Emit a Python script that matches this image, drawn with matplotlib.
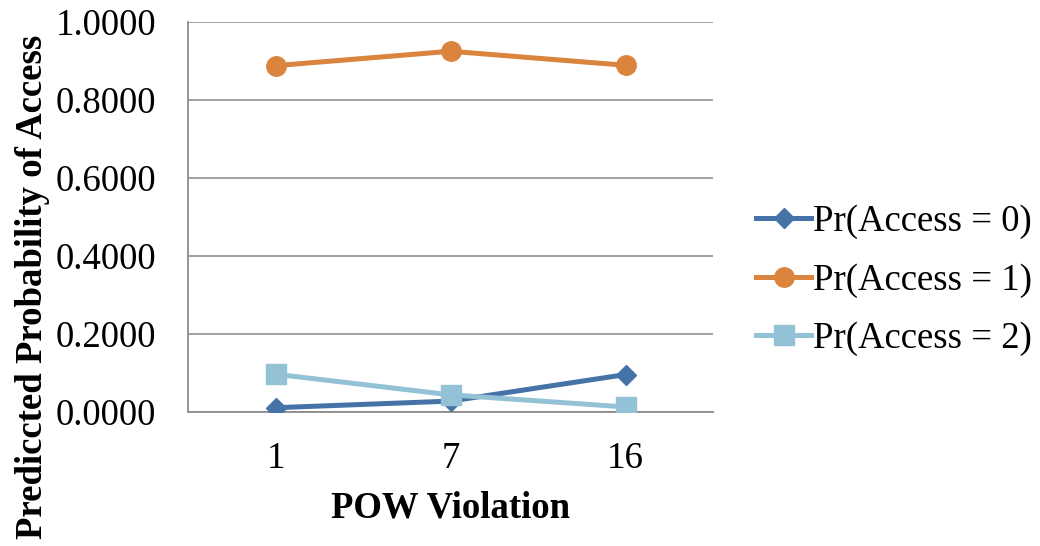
import matplotlib
matplotlib.use("Agg")
import matplotlib.pyplot as plt
from matplotlib.ticker import FormatStrFormatter

categories = ["1", "7", "16"]
pr_access_0 = [0.011, 0.028, 0.096]
pr_access_1 = [0.888, 0.925, 0.889]
pr_access_2 = [0.097, 0.044, 0.013]

plt.rcParams["font.family"] = ["Liberation Serif", "DejaVu Serif"]

fig = plt.figure(figsize=(10.4, 5.46), dpi=100)
ax = fig.add_axes([0.1808, 0.2454, 0.5048, 0.7143])

x = range(len(categories))
ax.plot(x, pr_access_0, color="#4572A7", lw=3.6, marker="D", ms=10,
        label="Pr(Access = 0)", zorder=3)
ax.plot(x, pr_access_1, color="#DB843D", lw=3.6, marker="o", ms=14,
        label="Pr(Access = 1)", zorder=3)
ax.plot(x, pr_access_2, color="#93C2D6", lw=3.6, marker="s", ms=14,
        label="Pr(Access = 2)", zorder=3)

ax.set_xlim(-0.5, 2.5)
ax.set_ylim(0, 1.0)
ax.set_yticks([0, 0.2, 0.4, 0.6, 0.8, 1.0])
ax.yaxis.set_major_formatter(FormatStrFormatter("%.4f"))
ax.set_xticks(list(x))
ax.set_xticklabels(categories)
ax.tick_params(axis="both", length=0, labelsize=26.5)
ax.tick_params(axis="x", pad=21)
ax.tick_params(axis="y", pad=23)

ax.grid(axis="y", color="#999999", lw=1.3)
ax.set_axisbelow(True)
for side in ["top", "right"]:
    ax.spines[side].set_visible(False)
for side in ["left", "bottom"]:
    ax.spines[side].set_color("#8C8C8C")
    ax.spines[side].set_linewidth(1.3)

ax.set_xlabel("POW Violation", fontsize=26.5, fontweight="bold", labelpad=11)
ax.set_ylabel("Prediccted Probability of Access", fontsize=26.5,
              fontweight="bold")
ax.yaxis.set_label_coords(-0.262, 0.322)

ax.legend(loc="center left", bbox_to_anchor=(1.054, 0.337), frameon=False,
          fontsize=26.5, handlelength=1.5, handletextpad=0.05,
          labelspacing=0.65, borderaxespad=0)

fig.savefig("out.png", dpi=100)
